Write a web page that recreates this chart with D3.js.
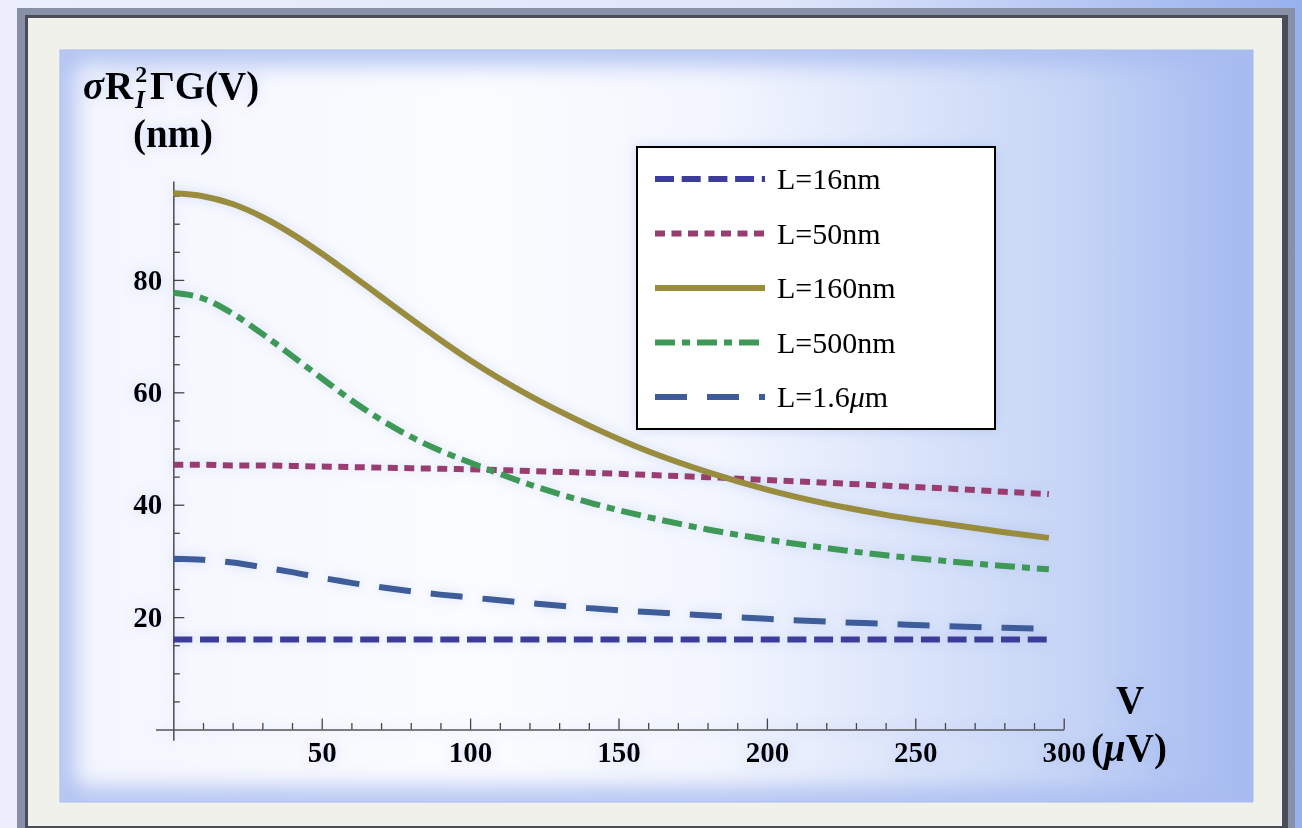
<!DOCTYPE html>
<html>
<head>
<meta charset="utf-8">
<script src="https://cdn.jsdelivr.net/npm/d3@7"></script>
<style>
  html, body { margin: 0; padding: 0; background: #e6ebfa; }
  svg { display: block; }
</style>
</head>
<body>
<svg class="s1" width="1302" height="828"></svg>
<script>
// values
var volts = [0, 10, 20, 30, 40, 50, 60, 70, 80, 90, 100, 120, 140, 160, 180, 200, 220, 240, 260, 280, 295];
var l16   = [16, 16, 16, 16, 16, 16, 16, 16, 16, 16, 16, 16, 16, 16, 16, 16, 16, 16, 16, 16, 16];
var l50   = [47.1, 47.1, 47.0, 47.0, 46.9, 46.8, 46.7, 46.6, 46.5, 46.4, 46.3, 46.0, 45.7, 45.3, 44.9, 44.4, 43.9, 43.4, 42.9, 42.3, 41.9];
var l160  = [95.4, 94.9, 93.5, 91.2, 88.2, 84.7, 80.9, 77.0, 73.1, 69.3, 65.7, 59.4, 54.1, 49.5, 45.8, 42.7, 40.2, 38.2, 36.6, 35.1, 34.1];
var l500  = [77.7, 76.7, 74.0, 70.4, 66.5, 62.5, 58.6, 55.1, 52.1, 49.6, 47.5, 43.6, 40.4, 37.8, 35.6, 33.8, 32.3, 31.0, 30.0, 29.1, 28.5];
var l1600 = [30.4, 30.2, 29.7, 28.9, 28.0, 27.0, 26.1, 25.3, 24.6, 24.0, 23.5, 22.5, 21.6, 20.9, 20.3, 19.7, 19.2, 18.8, 18.4, 18.1, 17.9];
var seriesNames = ["L=16nm", "L=50nm", "L=160nm", "L=500nm", "L=1.6\u03bcm"];
var xTicks = [50, 100, 150, 200, 250, 300];
var yTicks = [20, 40, 60, 80];

var colors = ["#3d3d99", "#993d71", "#998c3d", "#3d9954", "#3d5b99"];
var dashes = ["19,7.7", "10,6.5", null, "20,7,8,7", "32,20"];

var svg = d3.select("svg.s1");
var defs = svg.append("defs");

// page background
var bg = defs.append("linearGradient").attr("id", "bg");
bg.append("stop").attr("offset", "0%").attr("stop-color", "#eceffb");
bg.append("stop").attr("offset", "60%").attr("stop-color", "#dfe6fa");
bg.append("stop").attr("offset", "100%").attr("stop-color", "#97b1ee");

var pg = defs.append("linearGradient").attr("id", "panel");
pg.append("stop").attr("offset", "0%").attr("stop-color", "#f4f6fe");
pg.append("stop").attr("offset", "35%").attr("stop-color", "#fbfcff");
pg.append("stop").attr("offset", "55%").attr("stop-color", "#f3f6fe");
pg.append("stop").attr("offset", "70%").attr("stop-color", "#dde6fa");
pg.append("stop").attr("offset", "85%").attr("stop-color", "#c6d5f6");
pg.append("stop").attr("offset", "100%").attr("stop-color", "#a3b9f0");

var blur = defs.append("filter").attr("id", "soft")
  .attr("filterUnits", "userSpaceOnUse")
  .attr("x", 0).attr("y", 0).attr("width", 1302).attr("height", 828);
blur.append("feGaussianBlur").attr("stdDeviation", 12);

var glow = defs.append("filter").attr("id", "glow")
  .attr("filterUnits", "userSpaceOnUse")
  .attr("x", 0).attr("y", 0).attr("width", 1302).attr("height", 828);
glow.append("feGaussianBlur").attr("in", "SourceAlpha").attr("stdDeviation", 6).attr("result", "b");
glow.append("feFlood").attr("flood-color", "#7d98e4").attr("flood-opacity", 0.3);
glow.append("feComposite").attr("in2", "b").attr("operator", "in").attr("result", "g");
var gm = glow.append("feMerge");
gm.append("feMergeNode").attr("in", "g");
gm.append("feMergeNode").attr("in", "SourceGraphic");

defs.append("clipPath").attr("id", "pclip")
  .append("rect").attr("x", 60).attr("y", 50).attr("width", 1193).attr("height", 752);

svg.append("rect").attr("width", 1302).attr("height", 828).attr("fill", "url(#bg)");

// frame
svg.append("rect").attr("x", 17).attr("y", 8).attr("width", 1278).attr("height", 830).attr("fill", "#8790a6");
svg.append("rect").attr("x", 25).attr("y", 15).attr("width", 1263).attr("height", 815).attr("fill", "#4a4d57");
svg.append("rect").attr("x", 28).attr("y", 18).attr("width", 1254).attr("height", 808).attr("fill", "#f1f1ec");

// inner panel with blue vignette
svg.append("rect").attr("x", 60).attr("y", 50).attr("width", 1193).attr("height", 752)
  .attr("fill", "url(#panel)").attr("stroke", "#a9bbe8").attr("stroke-width", 1);
svg.append("g").attr("clip-path", "url(#pclip)")
  .append("rect").attr("x", 60).attr("y", 50).attr("width", 1193).attr("height", 752)
  .attr("fill", "none").attr("stroke", "#a8bcf0").attr("stroke-width", 26)
  .attr("filter", "url(#soft)");

var x = d3.scaleLinear().domain([-6, 300]).range([155.5, 1063.7]);
var y = d3.scaleLinear().domain([-1.9, 97.6]).range([740.2, 181]);

var g = svg.append("g").attr("filter", "url(#glow)");

var serif = "'Liberation Serif', 'Times New Roman', serif";

// x axis, minor ticks first
var xMinor = d3.range(10, 300, 10).filter(function(v) { return v % 50 != 0; });
g.append("g")
  .attr("transform", "translate(0," + y(0) + ")")
  .call(d3.axisBottom(x).tickValues(xMinor).tickSize(-6.5).tickFormat(""))
  .call(function(a) { a.select(".domain").remove(); });

var xAxis = g.append("g")
  .attr("transform", "translate(0," + y(0) + ")")
  .call(d3.axisBottom(x).tickValues(xTicks).tickSizeInner(-11).tickSizeOuter(0).tickPadding(11.5));

var yMinor = d3.range(5, 97, 5).filter(function(v) { return v % 20 != 0; });
g.append("g")
  .attr("transform", "translate(" + x(0) + ",0)")
  .call(d3.axisLeft(y).tickValues(yMinor).tickSize(-6.5).tickFormat(""))
  .call(function(a) { a.select(".domain").remove(); });

var yAxis = g.append("g")
  .attr("transform", "translate(" + x(0) + ",0)")
  .call(d3.axisLeft(y).tickValues(yTicks).tickSizeInner(-11).tickSizeOuter(0).tickPadding(11));

g.selectAll(".tick line").attr("stroke", "#444").attr("stroke-width", 1.3);
g.selectAll(".domain").attr("stroke", "#555").attr("stroke-width", 1.6);
g.selectAll(".tick text")
  .style("font-family", serif).style("font-weight", "bold").style("font-size", "29px")
  .attr("fill", "#000");

// curves
var series = [l16, l50, l160, l500, l1600];
var line = d3.line()
  .curve(d3.curveMonotoneX)
  .x(function(d) { return x(d.v); })
  .y(function(d) { return y(d.val); });

series.forEach(function(s, i) {
  var pts = volts.map(function(v, j) { return {v: v, val: s[j]}; });
  g.append("path")
    .attr("class", "line")
    .attr("d", line(pts))
    .attr("fill", "none")
    .attr("stroke", colors[i])
    .attr("stroke-width", 6)
    .attr("stroke-dasharray", dashes[i]);
});

// axis titles
var yl = g.append("text")
  .attr("x", 83).attr("y", 99)
  .style("font-family", serif).style("font-weight", "bold").style("font-size", "39px")
  .attr("fill", "#000");
yl.append("tspan").style("font-style", "italic").text("\u03c3");
yl.append("tspan").attr("dx", 1).text("R");
yl.append("tspan").attr("dx", 2).attr("dy", -17).style("font-size", "24px").text("2");
yl.append("tspan").attr("dx", -12).attr("dy", 26).style("font-size", "25px").style("font-style", "italic").text("I");
yl.append("tspan").attr("dx", 5).attr("dy", -9).text("\u0393G(V)");

g.append("text")
  .attr("x", 173).attr("y", 147).attr("text-anchor", "middle")
  .style("font-family", serif).style("font-weight", "bold").style("font-size", "39px")
  .text("(nm)");

g.append("text")
  .attr("x", 1130).attr("y", 713).attr("text-anchor", "middle")
  .style("font-family", serif).style("font-weight", "bold").style("font-size", "39px")
  .text("V");

var xl = g.append("text")
  .attr("x", 1129).attr("y", 761).attr("text-anchor", "middle")
  .style("font-family", serif).style("font-weight", "bold").style("font-size", "39px");
xl.append("tspan").text("(");
xl.append("tspan").style("font-style", "italic").text("\u03bc");
xl.append("tspan").text("V)");

// legend
var lx = 637, ly = 147, rowH = 54.5;
var legend = g.append("g").attr("class", "legend");
legend.append("rect")
  .attr("x", lx).attr("y", ly).attr("width", 358).attr("height", 282)
  .attr("fill", "#fff").attr("stroke", "#000").attr("stroke-width", 2);

seriesNames.forEach(function(name, i) {
  var ry = ly + 32 + i * rowH;
  legend.append("line")
    .attr("x1", lx + 18).attr("x2", lx + 128)
    .attr("y1", ry).attr("y2", ry)
    .attr("stroke", colors[i]).attr("stroke-width", 6)
    .attr("stroke-dasharray", dashes[i]);
  var t = legend.append("text")
    .attr("x", lx + 140).attr("y", ry + 10)
    .style("font-family", serif).style("font-size", "30px")
    .attr("fill", "#000");
  var k = name.indexOf("\u03bc");
  if (k < 0) t.text(name);
  else {
    t.append("tspan").text(name.slice(0, k));
    t.append("tspan").style("font-style", "italic").text("\u03bc");
    t.append("tspan").text(name.slice(k + 1));
  }
});
</script>
</body>
</html>
